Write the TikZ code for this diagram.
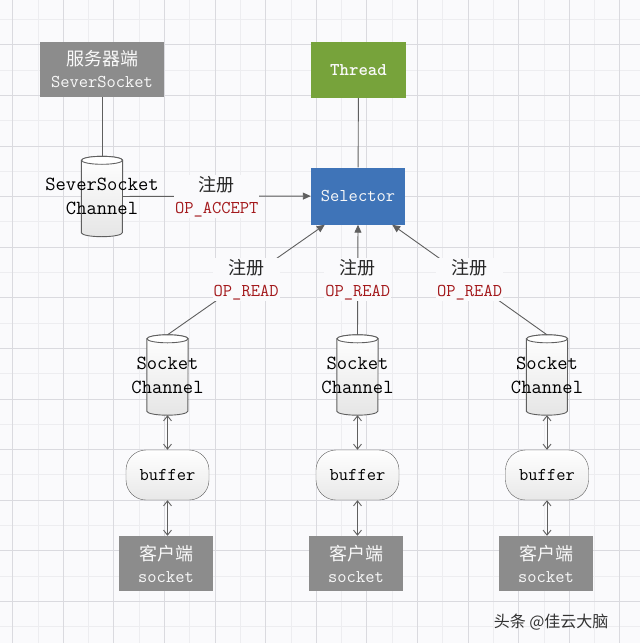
\documentclass[tikz,border=0pt]{standalone}
\usepackage{fontspec}
\newfontfamily\cjk{Noto Sans CJK SC}
\usetikzlibrary{arrows.meta}
\definecolor{boxgray}{HTML}{8C8C8C}
\definecolor{threadgreen}{HTML}{77A33B}
\definecolor{selblue}{HTML}{3F74B8}
\definecolor{opred}{HTML}{A3191C}
\definecolor{linegray}{HTML}{5F5F5F}
\definecolor{paper}{HTML}{FAFAFC}
\definecolor{gridminor}{HTML}{EDEDF0}
\definecolor{gridmajor}{HTML}{DADADF}

\tikzstyle{box} = [rectangle, text=white!95!gray, align=center, inner sep=0pt, font=\ttfamily\fontsize{18}{22}\selectfont]
\tikzstyle{chan} = [rectangle, minimum width=41pt, minimum height=80pt, inner sep=0pt]
\tikzstyle{chantext} = [align=center, inner sep=0pt, font=\ttfamily\fontsize{20}{24}\selectfont]
\tikzstyle{buf} = [rectangle, rounded corners=20pt, draw=linegray, top color=white, bottom color=gray!18, minimum width=83pt, minimum height=50pt, font=\ttfamily\fontsize{18}{22}\selectfont]
\tikzstyle{reg} = [fill=paper, align=center, inner sep=1pt, text=black!85, font=\ttfamily\fontsize{18}{22}\selectfont]
\tikzstyle{link} = [draw=linegray, line width=0.9pt]

\newcommand{\drum}[1]{%
    \draw[linegray, line width=0.9pt, top color=white, bottom color=gray!20]
        ([yshift=-4pt]#1.north west) -- ([yshift=4pt]#1.south west)
        arc[start angle=180, end angle=360, x radius=20.5pt, y radius=4pt]
        -- ([yshift=-4pt]#1.north east)
        arc[start angle=0, end angle=180, x radius=20.5pt, y radius=4pt] -- cycle;
    \draw[linegray, line width=0.9pt, fill=white] ([yshift=-4pt]#1.north) ellipse[x radius=20.5pt, y radius=4pt];
}

\begin{document}
\begin{tikzpicture}[x=1pt, y=-1pt]
\useasboundingbox (0,0) rectangle (640,643);
\fill[paper] (0,0) rectangle (640,643);
\foreach \i in {0,...,24} {
    \draw[gridminor, line width=0.8pt] ({12.6+25.3*\i},0) -- ({12.6+25.3*\i},643);
    \draw[gridminor, line width=0.8pt] (0,{19.4+25.3*\i}) -- (640,{19.4+25.3*\i});
}
\foreach \i in {0,2,...,24} {
    \draw[gridmajor, line width=0.8pt] ({12.6+25.3*\i},0) -- ({12.6+25.3*\i},643);
}
\foreach \i in {1,3,...,23} {
    \draw[gridmajor, line width=0.8pt] (0,{19.4+25.3*\i}) -- (640,{19.4+25.3*\i});
}

\node[box, fill=boxgray, minimum width=124pt, minimum height=55pt] (server) at (102,69.5) {{\cjk 服务器端}\\SeverSocket};
\node[box, fill=threadgreen, minimum width=95pt, minimum height=56pt, font=\ttfamily\bfseries\fontsize{18}{22}\selectfont] (thread) at (358.5,70) {Thread};
\node[box, fill=selblue, minimum width=94pt, minimum height=57pt] (selector) at (358,196) {Selector};

\node[chan] (ssc) at (102,196.5) {};
\drum{ssc}
\node[chantext] (ssctext) at (ssc) {SeverSocket\\Channel};

\node[chan] (chanA) at (167.5,375) {};
\drum{chanA}
\node[chantext] (chanAtext) at (chanA) {Socket\\Channel};
\node[chan] (chanB) at (357.5,375) {};
\drum{chanB}
\node[chantext] (chanBtext) at (chanB) {Socket\\Channel};
\node[chan] (chanC) at (547,375) {};
\drum{chanC}
\node[chantext] (chanCtext) at (chanC) {Socket\\Channel};

\node[buf] (bufA) at (167.5,475) {buffer};
\node[buf] (bufB) at (357.5,475) {buffer};
\node[buf] (bufC) at (547,475) {buffer};

\node[box, fill=boxgray, minimum width=94pt, minimum height=55pt] (clientA) at (166,563.5) {{\cjk 客户端}\\socket};
\node[box, fill=boxgray, minimum width=94pt, minimum height=55pt] (clientB) at (356,563.5) {{\cjk 客户端}\\socket};
\node[box, fill=boxgray, minimum width=94pt, minimum height=55pt] (clientC) at (546,563.5) {{\cjk 客户端}\\socket};

\node[anchor=east, text=black!80, font=\cjk\fontsize{16}{18}\selectfont] (mark) at (612,622) {头条 @佳云大脑};

\draw[link] (server) -- (ssc);
\draw[link] (thread) -- (selector);
\draw[link, -{Triangle[length=8pt,width=7pt]}] (ssc) -- (selector)
    node[reg, midway] {{\cjk 注册}\\\textcolor{opred}{OP\_ACCEPT}};
\draw[link, -{Triangle[length=8pt,width=7pt]}] (chanA.north) -- ([xshift=14pt]selector.south west)
    node[reg, midway] {{\cjk 注册}\\\textcolor{opred}{OP\_READ}};
\draw[link, -{Triangle[length=8pt,width=7pt]}] (chanB.north) -- (selector.south)
    node[reg, midway] {{\cjk 注册}\\\textcolor{opred}{OP\_READ}};
\draw[link, -{Triangle[length=8pt,width=7pt]}] (chanC.north) -- ([xshift=-13pt]selector.south east)
    node[reg, midway] {{\cjk 注册}\\\textcolor{opred}{OP\_READ}};

\draw[link, {Straight Barb[length=5pt,width=8pt]}-{Straight Barb[length=5pt,width=8pt]}] (chanA.south) -- (bufA);
\draw[link, {Straight Barb[length=5pt,width=8pt]}-{Straight Barb[length=5pt,width=8pt]}] (chanB.south) -- (bufB);
\draw[link, {Straight Barb[length=5pt,width=8pt]}-{Straight Barb[length=5pt,width=8pt]}] (chanC.south) -- (bufC);
\draw[link, {Straight Barb[length=5pt,width=8pt]}-{Straight Barb[length=5pt,width=8pt]}] (bufA) -- (bufA |- clientA.north);
\draw[link, {Straight Barb[length=5pt,width=8pt]}-{Straight Barb[length=5pt,width=8pt]}] (bufB) -- (bufB |- clientB.north);
\draw[link, {Straight Barb[length=5pt,width=8pt]}-{Straight Barb[length=5pt,width=8pt]}] (bufC) -- (bufC |- clientC.north);
\end{tikzpicture}
\end{document}
